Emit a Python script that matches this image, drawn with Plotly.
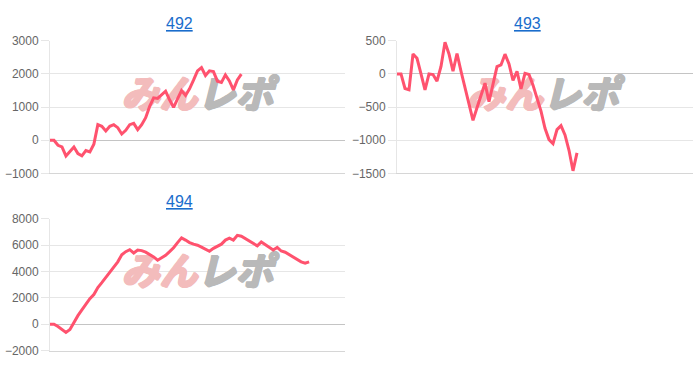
import plotly.graph_objects as go

# ---- data ----
titles = ["492", "493", "494"]
n_slots = 74  # x-axis span (category positions 0..74)

s492 = [0, 0, -150, -200, -470, -330, -200, -400, -470, -310, -350, -120, 470, 420,
        280, 420, 470, 380, 190, 300, 470, 510, 320, 470, 680, 1020, 1280, 1260, 1370,
        1480, 1220, 990, 1250, 1500, 1350, 1550, 1810, 2090, 2190, 1950, 2090, 2070,
        1780, 1740, 1970, 1790, 1520, 1820, 1990]

s493 = [0, 0, -220, -240, 300, 235, 0, -240, 0, -10, -110, 113, 475, 300, 40, 307,
        40, -200, -480, -700, -510, -330, -140, -420, -130, 110, 135, 297, 150, -100,
        40, -225, 7, -10, -170, -360, -560, -820, -990, -1050, -840, -780, -920,
        -1150, -1460, -1190]

s494 = [0, 0, -170, -400, -620, -400, 160, 650, 1080, 1520, 1930, 2250, 2780, 3150,
        3560, 3950, 4290, 4730, 5260, 5500, 5650, 5400, 5630, 5580, 5460, 5290, 5100,
        4850, 5020, 5220, 5500, 5800, 6190, 6550, 6380, 6190, 6070, 5990, 5850, 5700,
        5530, 5750, 5940, 6070, 6380, 6530, 6380, 6740, 6670, 6480, 6310, 6120, 5940,
        6240, 6040, 5870, 5630, 5820, 5550, 5460, 5290, 5100, 4920, 4730, 4630, 4730]

y_ranges = [[-1000, 3000], [-1500, 500], [-2000, 8000]]
y_dticks = [1000, 500, 2000]

series = [s492, s493, s494]
watermark = ["みん", "レポ"]

# ---- layout geometry (paper fractions) ----
W, H = 700, 372
x_domains = [[50 / W, 345 / W], [397 / W, 693 / W], [50 / W, 345 / W]]
y_domains = [[1 - 173 / H, 1 - 35 / H], [1 - 173 / H, 1 - 35 / H], [1 - 357 / H, 1 - 220 / H]]
title_pos = [(179.5 / W, 1 - 17 / H), (527 / W, 1 - 17 / H), (180 / W, 1 - 202 / H)]
wm_frac = [(0.5, 0.565), (0.493, 0.565), (0.5, 0.57)]  # fraction of axis ranges

LINE = "rgb(255,82,110)"
GRID = "#e6e6e6"
FONT = "Liberation Sans, Arial, Helvetica, sans-serif"
PINK = "#f3bcbc"
GRAY = "#b9b9b9"


def thick(c):
    return ", ".join(f"{dx}px {dy}px 0px {c}" for dx, dy in
                     [(1, 0), (-1, 0), (0, 1), (0, -1), (1, 1), (-1, -1)])


fig = go.Figure()
layout = dict(
    width=W, height=H,
    margin=dict(l=0, r=0, t=0, b=0),
    paper_bgcolor="white", plot_bgcolor="white",
    showlegend=False,
    font=dict(family=FONT, size=12, color="#666666"),
    annotations=[],
)

for i, vals in enumerate(series):
    k = "" if i == 0 else str(i + 1)
    xa, ya = "x" + k, "y" + k
    r0, r1 = y_ranges[i]
    wx = wm_frac[i][0] * n_slots
    wy = r0 + wm_frac[i][1] * (r1 - r0)
    # watermark (drawn beneath the line)
    for txt, pos, col in [(watermark[0], "middle left", PINK), (watermark[1], "middle right", GRAY)]:
        fig.add_trace(go.Scatter(
            x=[wx], y=[wy], mode="text", text=[txt], textposition=pos,
            textfont=dict(family="Noto Sans CJK JP", size=38, color=col,
                          weight="bold", style="italic", shadow=thick(col)),
            xaxis=xa, yaxis=ya, hoverinfo="skip", cliponaxis=False,
        ))
    fig.add_trace(go.Scatter(
        x=list(range(len(vals))), y=vals, mode="lines",
        line=dict(color=LINE, width=3), xaxis=xa, yaxis=ya,
        hoverinfo="skip",
    ))
    layout["xaxis" + k] = dict(
        domain=x_domains[i], anchor=ya, range=[0, n_slots],
        showticklabels=False, showgrid=False, zeroline=False,
        showline=True, linecolor="#d6d6d6", linewidth=1, ticks="",
        fixedrange=True,
    )
    layout["yaxis" + k] = dict(
        domain=y_domains[i], anchor=xa, range=y_ranges[i], dtick=y_dticks[i],
        showgrid=True, gridcolor=GRID, gridwidth=1,
        zeroline=True, zerolinecolor="#c4c4c4", zerolinewidth=1,
        showline=True, linecolor=GRID, linewidth=1,
        ticks="outside", ticklen=8, tickcolor=GRID,
        tickfont=dict(family=FONT, size=12, color="#666666"),
        fixedrange=True,
    )
    # chart title (link style)
    layout["annotations"].append(dict(
        text=titles[i], xref="paper", yref="paper",
        x=title_pos[i][0], y=title_pos[i][1], xanchor="center", yanchor="middle",
        showarrow=False,
        font=dict(family=FONT, size=16, color="#1a6dcc", lineposition="under"),
    ))

fig.update_layout(**layout)
fig.write_html("out.html", config={"displayModeBar": False})
